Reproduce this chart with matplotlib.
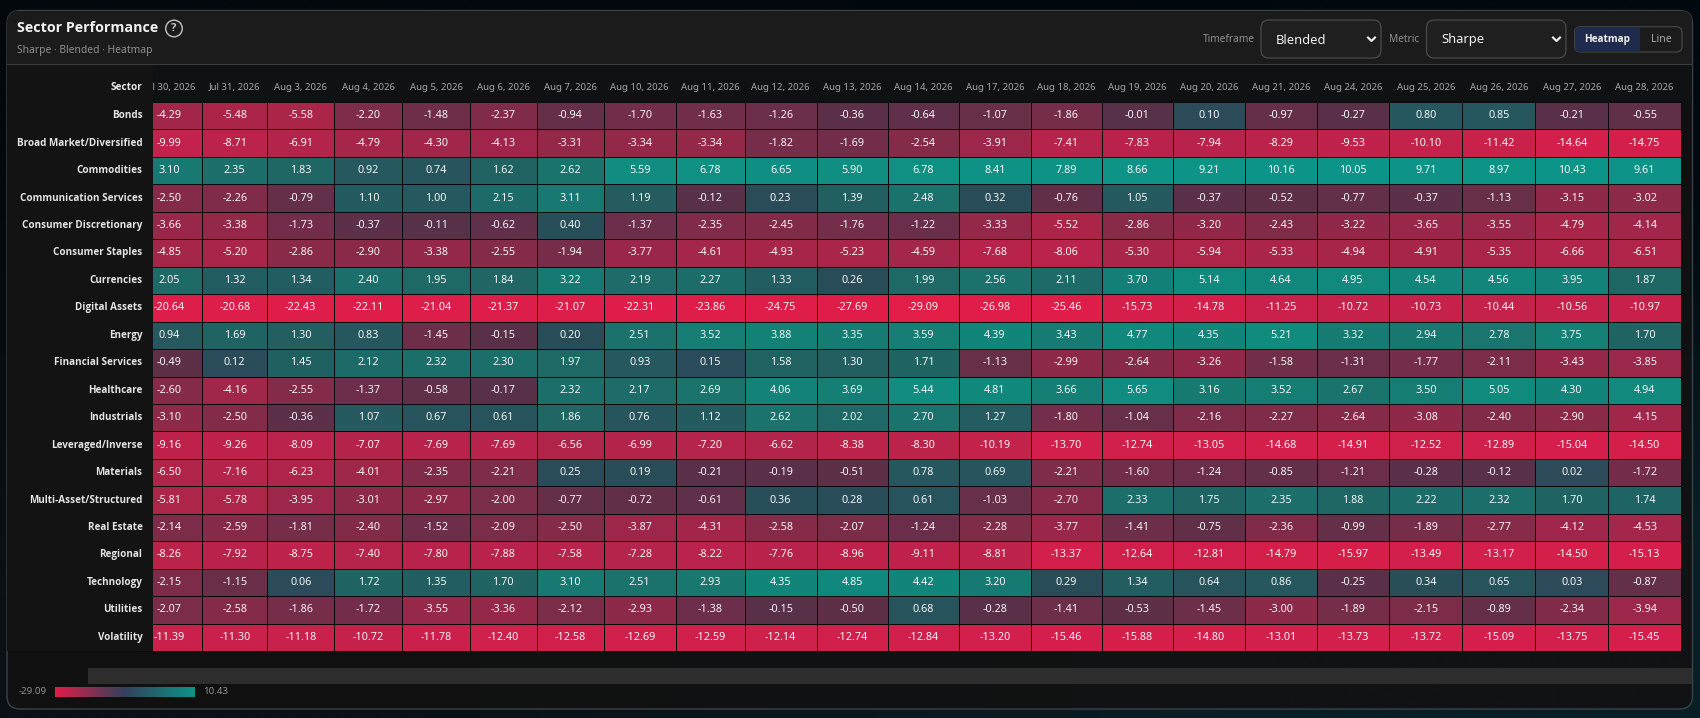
import numpy as np
import matplotlib
matplotlib.use("Agg")
import matplotlib.pyplot as plt
from matplotlib.colors import LinearSegmentedColormap, Normalize
from matplotlib.patches import FancyBboxPatch, Rectangle, Circle

plt.rcParams['font.family'] = ['Noto Sans', 'DejaVu Sans']
BOLD = ['Open Sans', 'DejaVu Sans']

dates = ["Jul 30, 2026", "Jul 31, 2026", "Aug 3, 2026", "Aug 4, 2026", "Aug 5, 2026", "Aug 6, 2026",
         "Aug 7, 2026", "Aug 10, 2026", "Aug 11, 2026", "Aug 12, 2026", "Aug 13, 2026", "Aug 14, 2026",
         "Aug 17, 2026", "Aug 18, 2026", "Aug 19, 2026", "Aug 20, 2026", "Aug 21, 2026", "Aug 24, 2026",
         "Aug 25, 2026", "Aug 26, 2026", "Aug 27, 2026", "Aug 28, 2026"]

sectors = ["Bonds", "Broad Market/Diversified", "Commodities", "Communication Services",
           "Consumer Discretionary", "Consumer Staples", "Currencies", "Digital Assets", "Energy",
           "Financial Services", "Healthcare", "Industrials", "Leveraged/Inverse", "Materials",
           "Multi-Asset/Structured", "Real Estate", "Regional", "Technology", "Utilities", "Volatility"]

bonds = [-4.29, -5.48, -5.58, -2.20, -1.48, -2.37, -0.94, -1.70, -1.63, -1.26, -0.36, -0.64, -1.07, -1.86, -0.01, 0.10, -0.97, -0.27, 0.80, 0.85, -0.21, -0.55]
broad = [-9.99, -8.71, -6.91, -4.79, -4.30, -4.13, -3.31, -3.34, -3.34, -1.82, -1.69, -2.54, -3.91, -7.41, -7.83, -7.94, -8.29, -9.53, -10.10, -11.42, -14.64, -14.75]
commodities = [3.10, 2.35, 1.83, 0.92, 0.74, 1.62, 2.62, 5.59, 6.78, 6.65, 5.90, 6.78, 8.41, 7.89, 8.66, 9.21, 10.16, 10.05, 9.71, 8.97, 10.43, 9.61]
communication = [-2.50, -2.26, -0.79, 1.10, 1.00, 2.15, 3.11, 1.19, -0.12, 0.23, 1.39, 2.48, 0.32, -0.76, 1.05, -0.37, -0.52, -0.77, -0.37, -1.13, -3.15, -3.02]
discretionary = [-3.66, -3.38, -1.73, -0.37, -0.11, -0.62, 0.40, -1.37, -2.35, -2.45, -1.76, -1.22, -3.33, -5.52, -2.86, -3.20, -2.43, -3.22, -3.65, -3.55, -4.79, -4.14]
staples = [-4.85, -5.20, -2.86, -2.90, -3.38, -2.55, -1.94, -3.77, -4.61, -4.93, -5.23, -4.59, -7.68, -8.06, -5.30, -5.94, -5.33, -4.94, -4.91, -5.35, -6.66, -6.51]
currencies = [2.05, 1.32, 1.34, 2.40, 1.95, 1.84, 3.22, 2.19, 2.27, 1.33, 0.26, 1.99, 2.56, 2.11, 3.70, 5.14, 4.64, 4.95, 4.54, 4.56, 3.95, 1.87]
digital = [-20.64, -20.68, -22.43, -22.11, -21.04, -21.37, -21.07, -22.31, -23.86, -24.75, -27.69, -29.09, -26.98, -25.46, -15.73, -14.78, -11.25, -10.72, -10.73, -10.44, -10.56, -10.97]
energy = [0.94, 1.69, 1.30, 0.83, -1.45, -0.15, 0.20, 2.51, 3.52, 3.88, 3.35, 3.59, 4.39, 3.43, 4.77, 4.35, 5.21, 3.32, 2.94, 2.78, 3.75, 1.70]
financial = [-0.49, 0.12, 1.45, 2.12, 2.32, 2.30, 1.97, 0.93, 0.15, 1.58, 1.30, 1.71, -1.13, -2.99, -2.64, -3.26, -1.58, -1.31, -1.77, -2.11, -3.43, -3.85]
healthcare = [-2.60, -4.16, -2.55, -1.37, -0.58, -0.17, 2.32, 2.17, 2.69, 4.06, 3.69, 5.44, 4.81, 3.66, 5.65, 3.16, 3.52, 2.67, 3.50, 5.05, 4.30, 4.94]
industrials = [-3.10, -2.50, -0.36, 1.07, 0.67, 0.61, 1.86, 0.76, 1.12, 2.62, 2.02, 2.70, 1.27, -1.80, -1.04, -2.16, -2.27, -2.64, -3.08, -2.40, -2.90, -4.15]
leveraged = [-9.16, -9.26, -8.09, -7.07, -7.69, -7.69, -6.56, -6.99, -7.20, -6.62, -8.38, -8.30, -10.19, -13.70, -12.74, -13.05, -14.68, -14.91, -12.52, -12.89, -15.04, -14.50]
materials = [-6.50, -7.16, -6.23, -4.01, -2.35, -2.21, 0.25, 0.19, -0.21, -0.19, -0.51, 0.78, 0.69, -2.21, -1.60, -1.24, -0.85, -1.21, -0.28, -0.12, 0.02, -1.72]
multi_asset = [-5.81, -5.78, -3.95, -3.01, -2.97, -2.00, -0.77, -0.72, -0.61, 0.36, 0.28, 0.61, -1.03, -2.70, 2.33, 1.75, 2.35, 1.88, 2.22, 2.32, 1.70, 1.74]
real_estate = [-2.14, -2.59, -1.81, -2.40, -1.52, -2.09, -2.50, -3.87, -4.31, -2.58, -2.07, -1.24, -2.28, -3.77, -1.41, -0.75, -2.36, -0.99, -1.89, -2.77, -4.12, -4.53]
regional = [-8.26, -7.92, -8.75, -7.40, -7.80, -7.88, -7.58, -7.28, -8.22, -7.76, -8.96, -9.11, -8.81, -13.37, -12.64, -12.81, -14.79, -15.97, -13.49, -13.17, -14.50, -15.13]
technology = [-2.15, -1.15, 0.06, 1.72, 1.35, 1.70, 3.10, 2.51, 2.93, 4.35, 4.85, 4.42, 3.20, 0.29, 1.34, 0.64, 0.86, -0.25, 0.34, 0.65, 0.03, -0.87]
utilities = [-2.07, -2.58, -1.86, -1.72, -3.55, -3.36, -2.12, -2.93, -1.38, -0.15, -0.50, 0.68, -0.28, -1.41, -0.53, -1.45, -3.00, -1.89, -2.15, -0.89, -2.34, -3.94]
volatility = [-11.39, -11.30, -11.18, -10.72, -11.78, -12.40, -12.58, -12.69, -12.59, -12.14, -12.74, -12.84, -13.20, -15.46, -15.88, -14.80, -13.01, -13.73, -13.72, -15.09, -13.75, -15.45]

values = np.array([bonds, broad, commodities, communication, discretionary, staples, currencies, digital,
                   energy, financial, healthcare, industrials, leveraged, materials, multi_asset,
                   real_estate, regional, technology, utilities, volatility])

# the page lays columns out by text width, so the edges are not even. first one sits under the sticky labels
col_edges = [135.5, 202.5, 267, 334.5, 402.5, 469.7, 536.7, 603.7, 675.7, 744.7, 816.7, 887.7,
             959.3, 1030.7, 1101.7, 1172.7, 1245.3, 1316.7, 1389.3, 1462.3, 1535.3, 1608.3, 1681]
row_top = 102
row_bottom = 651
label_x = 142.5
grid_left = 153

vmin, vmax = -29.09, 10.43

stop_values = [-29.09, -21, -13, -10, -7.9, -5.5, -4.3, -3.3, -2.2, -1.5, -0.9, -0.3, -0.005,
               0.005, 0.3, 0.9, 1.6, 2.3, 3, 4, 5.5, 8, 10.43]
stop_colors = ["#e11d48", "#dd1d4a", "#d21f4b", "#c2224b", "#b9234b", "#ab2549", "#a2264a", "#932849",
               "#7d2c49", "#6e2e4a", "#652f49", "#5a3048", "#563148",
               "#2c4a5a", "#284d58", "#26585f", "#206262", "#1c6e6a", "#187870", "#138278", "#108d80",
               "#0e9286", "#0d9488"]
stops = [((v - vmin) / (vmax - vmin), c) for v, c in zip(stop_values, stop_colors)]
cmap = LinearSegmentedColormap.from_list("sharpe", stops, N=32768)
legend_cmap = LinearSegmentedColormap.from_list("legend", ["#e11d48", "#33415c", "#0d9488"])

fig = plt.figure(figsize=(17, 7.18), dpi=100)
ax = fig.add_axes([0, 0, 1, 1])
ax.axis('off')

# page background, a faint teal glow toward the bottom right
bg = np.array([[[3, 8, 13], [1, 8, 14]], [[10, 16, 21], [9, 31, 38]]]) / 255
ax.imshow(bg, extent=(0, 1700, 718, 0), interpolation='bilinear', aspect='auto', zorder=0)

card = FancyBboxPatch((7, 10.5), 1685.5, 698.5, boxstyle="round,pad=0,rounding_size=13",
                      fc=(0.067, 0.067, 0.067, 0.88), ec="#3a4247", lw=1, zorder=1)
ax.add_patch(card)
header = Rectangle((7, 10.5), 1685.5, 53.5, fc="#1b1b1b", ec="none", zorder=1.1)
ax.add_patch(header)
header.set_clip_path(card)
ax.plot([7, 1692.5], [64, 64], color="#3a3a3a", lw=0.8, zorder=1.2)
ax.add_patch(Rectangle((7.5, 64.5), 1684.5, 37.5, fc="#101112", ec="none", zorder=1.1))

# title block
ax.text(17, 28.5, "Sector Performance", fontsize=10.3, family=BOLD, weight='bold', color="#f2f2f2", va='center', zorder=5)
ax.add_patch(Circle((174, 28.5), 8.3, fc="none", ec="#b5b5b5", lw=1.1, zorder=5))
ax.text(174, 28.5, "?", fontsize=8, family=BOLD, weight='bold', color="#c8c8c8", ha='center', va='center', zorder=5)
ax.text(17, 50, "Sharpe · Blended · Heatmap", fontsize=7.4, color="#8f8f8f", va='center', zorder=5)

# the controls top right
ax.text(1203, 39, "Timeframe", fontsize=7.3, color="#8f8f8f", va='center', zorder=5)
ax.text(1389, 39, "Metric", fontsize=7.3, color="#8f8f8f", va='center', zorder=5)
for x0, x1, name in [(1261, 1381, "Blended"), (1426.5, 1566, "Sharpe")]:
    ax.add_patch(FancyBboxPatch((x0, 20), x1 - x0, 38, boxstyle="round,pad=0,rounding_size=8",
                                fc="#1f1f1f", ec="#4a4a4a", lw=0.9, zorder=3))
    ax.text(x0 + 15, 40, name, fontsize=9.3, color="#f0f0f0", va='center', zorder=5)
    ax.plot([x1 - 13, x1 - 9.5, x1 - 6], [37.5, 41, 37.5], color="#f0f0f0", lw=1.5, zorder=5)

toggle = FancyBboxPatch((1574.6, 26.7), 107.4, 25.3, boxstyle="round,pad=0,rounding_size=6",
                        fc="#1b1b1b", ec="#454545", lw=0.9, zorder=3)
ax.add_patch(toggle)
active = Rectangle((1574.6, 26.7), 65.4, 25.3, fc="#1e2b4d", ec="none", zorder=3.1)
ax.add_patch(active)
active.set_clip_path(toggle)
ax.text(1607, 39.5, "Heatmap", fontsize=7.2, family=BOLD, weight='bold', color="#f2f2f2", ha='center', va='center', zorder=5)
ax.text(1661, 39.5, "Line", fontsize=7.6, color="#a8a8a8", ha='center', va='center', zorder=5)

# heatmap
row_edges = np.linspace(row_top, row_bottom, len(sectors) + 1)
ax.pcolormesh(col_edges, row_edges, values, cmap=cmap, norm=Normalize(vmin, vmax),
              edgecolors="#0a0a0a", linewidth=0.6, zorder=2)
col_mid = [(col_edges[i] + col_edges[i + 1]) / 2 for i in range(len(dates))]
row_mid = [(row_edges[i] + row_edges[i + 1]) / 2 for i in range(len(sectors))]

for j, d in enumerate(dates):
    # +1.5 on the clipped one so only the tail of the "l" shows
    ax.text(col_mid[j] + (1.5 if j == 0 else 0), 87.5, d, fontsize=6.9, color="#a6a6a6", ha='center', va='center', zorder=3)
for i in range(len(sectors)):
    for j in range(len(dates)):
        ax.text(col_mid[j], row_mid[i], f"{values[i, j]:.2f}", fontsize=7.8, color="#f4f4f4",
                ha='center', va='center', zorder=3)

# sticky label column hides the left part of the first date column
ax.add_patch(Rectangle((7.5, 64.5), grid_left - 7.5, row_bottom - 64.5, fc="#131313", ec="none", zorder=4))
ax.text(label_x, 87.5, "Sector", fontsize=7.2, family=BOLD, weight='bold', color="#e8e8e8", ha='right', va='center', zorder=5)
for i, s in enumerate(sectors):
    ax.text(label_x, row_mid[i], s, fontsize=7.15, family=BOLD, weight='bold', color="#e4e4e4", ha='right', va='center', zorder=5)

# scrollbar and legend
ax.add_patch(Rectangle((88, 668), 1604, 16, fc="#2d2d2d", ec="none", zorder=3))
ramp = np.linspace(0, 1, 256).reshape(1, -1)
ax.imshow(ramp, extent=(55, 195, 697, 687), cmap=legend_cmap, aspect='auto', zorder=3)
ax.text(47, 692, f"{vmin:.2f}", fontsize=7, color="#8f8f8f", ha='right', va='center', zorder=5)
ax.text(203, 692, f"{vmax:.2f}", fontsize=7, color="#8f8f8f", ha='left', va='center', zorder=5)

ax.set_xlim(0, 1700)
ax.set_ylim(718, 0)

fig.savefig("out.png", dpi=100, facecolor="#03080d")
